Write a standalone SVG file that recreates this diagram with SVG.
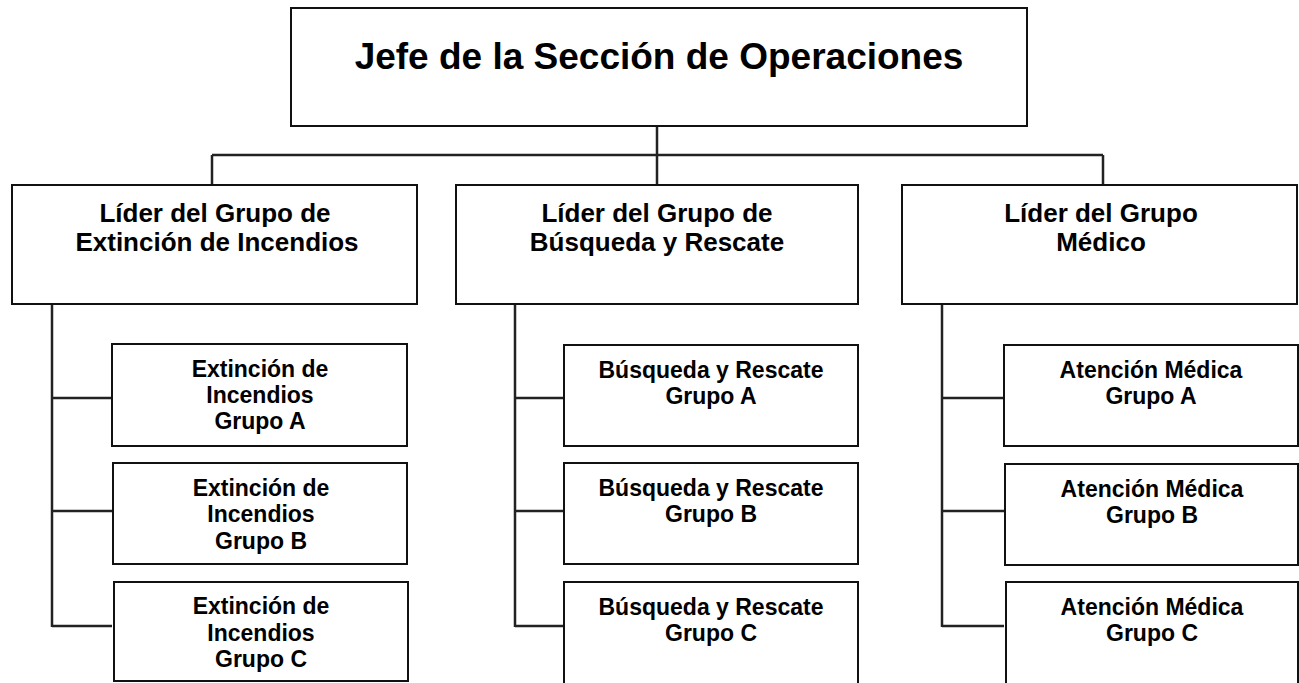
<svg xmlns="http://www.w3.org/2000/svg" width="1299" height="683" viewBox="0 0 1299 683">
<style>
.box{fill:#fff;stroke:#111;stroke-width:2}
.t{font-family:"Liberation Sans",Arial,sans-serif;font-weight:bold;fill:#000;text-anchor:middle}
.title{font-size:37px}
.lead{font-size:26px}
.sub{font-size:23px}
.c{fill:none;stroke:#222;stroke-width:2.5}
</style>
<rect width="1299" height="683" fill="#fff"/>
<g id="connectors">
<path class="c" d="M657 126V184M212 155H1103M212 155V184M1103 155V184"/>
<path class="c" d="M52 304V627M52 398H112M52 511H112M52 626H112"/>
<path class="c" d="M515 304V627M515 398H564M515 511H564M515 626H564"/>
<path class="c" d="M942 304V627M942 398H1004M942 511H1004M942 626H1004"/>
</g>
<g id="jefe">
<rect class="box" x="291" y="8" width="736" height="118"/>
<text class="t title" x="659" y="69">Jefe de la Sección de Operaciones</text>
</g>
<g id="lider-extincion">
<rect class="box" x="12" y="185" width="405" height="119"/>
<text class="t lead" x="215" y="222">Líder del Grupo de</text>
<text class="t lead" x="217" y="251">Extinción de Incendios</text>
</g>
<g id="lider-busqueda">
<rect class="box" x="456" y="185" width="402" height="119"/>
<text class="t lead" x="657" y="222">Líder del Grupo de</text>
<text class="t lead" x="657" y="251">Búsqueda y Rescate</text>
</g>
<g id="lider-medico">
<rect class="box" x="902" y="185" width="395" height="119"/>
<text class="t lead" x="1101" y="222">Líder del Grupo</text>
<text class="t lead" x="1101" y="251">Médico</text>
</g>
<g id="ext-a">
<rect class="box" x="112" y="344" width="295" height="102"/>
<text class="t sub" x="260" y="377">Extinción de</text>
<text class="t sub" x="260" y="403">Incendios</text>
<text class="t sub" x="260" y="429">Grupo A</text>
</g>
<g id="ext-b">
<rect class="box" x="113" y="463" width="294" height="101"/>
<text class="t sub" x="261" y="496">Extinción de</text>
<text class="t sub" x="261" y="522">Incendios</text>
<text class="t sub" x="261" y="549">Grupo B</text>
</g>
<g id="ext-c">
<rect class="box" x="114" y="582" width="294" height="99"/>
<text class="t sub" x="261" y="614">Extinción de</text>
<text class="t sub" x="261" y="641">Incendios</text>
<text class="t sub" x="261" y="667">Grupo C</text>
</g>
<g id="bus-a">
<rect class="box" x="564" y="345" width="294" height="101"/>
<text class="t sub" x="711" y="378">Búsqueda y Rescate</text>
<text class="t sub" x="711" y="404">Grupo A</text>
</g>
<g id="bus-b">
<rect class="box" x="564" y="463" width="294" height="101"/>
<text class="t sub" x="711" y="496">Búsqueda y Rescate</text>
<text class="t sub" x="711" y="522">Grupo B</text>
</g>
<g id="bus-c">
<rect class="box" x="564" y="582" width="294" height="110"/>
<text class="t sub" x="711" y="615">Búsqueda y Rescate</text>
<text class="t sub" x="711" y="641">Grupo C</text>
</g>
<g id="med-a">
<rect class="box" x="1004" y="345" width="294" height="101"/>
<text class="t sub" x="1151" y="378">Atención Médica</text>
<text class="t sub" x="1151" y="404">Grupo A</text>
</g>
<g id="med-b">
<rect class="box" x="1005" y="464" width="293" height="101"/>
<text class="t sub" x="1152" y="497">Atención Médica</text>
<text class="t sub" x="1152" y="523">Grupo B</text>
</g>
<g id="med-c">
<rect class="box" x="1006" y="582" width="292" height="110"/>
<text class="t sub" x="1152" y="615">Atención Médica</text>
<text class="t sub" x="1152" y="641">Grupo C</text>
</g>
</svg>
